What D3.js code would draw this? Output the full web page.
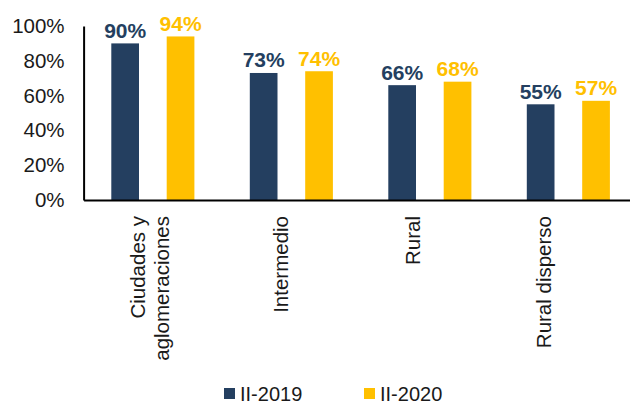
<!DOCTYPE html>
<html>
<head>
<meta charset="utf-8">
<script src="https://cdn.jsdelivr.net/npm/d3@7"></script>
<style>
  body { margin: 0; background: #fff; }
  text { font-family: Arial, "Liberation Sans", sans-serif; }
</style>
</head>
<body>
<div id="chart"></div>
<script>
const categories = ["Ciudades y aglomeraciones", "Intermedio", "Rural", "Rural disperso"];
const categoryLines = [["Ciudades y", "aglomeraciones"], ["Intermedio"], ["Rural"], ["Rural disperso"]];
const seriesNames = ["II-2019", "II-2020"];
const values2019 = [0.90, 0.73, 0.66, 0.55];
const values2020 = [0.94, 0.74, 0.68, 0.57];
const yTicks = [0, 0.2, 0.4, 0.6, 0.8, 1.0];

const width = 630;
const height = 403;
const colors = ["#243f60", "#ffc000"];

const svg = d3.select("#chart")
  .append("svg")
  .attr("width", width)
  .attr("height", height);

const x = d3.scaleBand()
  .domain(categories)
  .range([83.6, 637.6]);

const xInner = d3.scaleBand()
  .domain(seriesNames)
  .range([0, x.bandwidth()])
  .paddingInner(0.5)
  .paddingOuter(0.5);

// Excel spreads the rotated labels a bit narrower than the bars
const xLabel = d3.scaleBand()
  .domain(categories)
  .range([84, 610]);

const y = d3.scaleLinear()
  .domain([0, 1])
  .range([200, 26]);

const rows = categories.map((c, i) => ({
  category: c,
  lines: categoryLines[i],
  values: [values2019[i], values2020[i]]
}));

// y axis
const yAxis = svg.append("g")
  .attr("transform", `translate(${x.range()[0]},0)`)
  .call(d3.axisLeft(y).tickValues(yTicks).tickFormat(d3.format(".0%")).tickSize(0).tickSizeOuter(0).tickPadding(19));
yAxis.select(".domain").attr("stroke", "#000").attr("stroke-width", 2);
yAxis.selectAll("text")
  .attr("font-size", 20.5)
  .attr("fill", "#1a1a1a");

// bars
const group = svg.append("g")
  .selectAll("g")
  .data(rows)
  .join("g")
  .attr("transform", d => `translate(${x(d.category)},0)`);

group.selectAll("rect")
  .data(d => d.values.map((v, i) => ({ key: seriesNames[i], value: v, i })))
  .join("rect")
  .attr("x", d => xInner(d.key))
  .attr("width", xInner.bandwidth())
  .attr("y", d => y(d.value))
  .attr("height", d => y(0) - y(d.value))
  .attr("fill", d => colors[d.i]);

group.selectAll("text.value")
  .data(d => d.values.map((v, i) => ({ key: seriesNames[i], value: v, i })))
  .join("text")
  .attr("class", "value")
  .attr("x", d => xInner(d.key) + xInner.bandwidth() / 2)
  .attr("y", d => y(d.value) - 5.5)
  .attr("text-anchor", "middle")
  .attr("font-size", 21)
  .attr("font-weight", "bold")
  .attr("fill", d => colors[d.i])
  .text(d => d3.format(".0%")(d.value));

// x axis line
const xAxis = svg.append("g")
  .attr("transform", `translate(0,${y(0)})`)
  .call(d3.axisBottom(x).tickSize(0).tickSizeOuter(0).tickFormat(""));
xAxis.select(".domain").attr("stroke", "#000").attr("stroke-width", 2);

// rotated category labels
const labels = svg.append("g")
  .selectAll("text")
  .data(rows)
  .join("text")
  .attr("transform", d => `translate(${xLabel(d.category) + xLabel.bandwidth() / 2},216) rotate(-90)`)
  .attr("text-anchor", "end")
  .attr("font-size", 20.5)
  .attr("fill", "#1a1a1a");

labels.selectAll("tspan")
  .data(d => d.lines.map((t, i) => ({ t, i, n: d.lines.length })))
  .join("tspan")
  .attr("x", 0)
  .attr("y", d => (d.i - (d.n - 1) / 2) * 23.4)
  .attr("dy", "0.35em")
  .text(d => d.t);

// legend
const legend = svg.append("g")
  .selectAll("g")
  .data(seriesNames)
  .join("g")
  .attr("transform", (d, i) => `translate(${224 + i * 140},388)`);

legend.append("rect")
  .attr("width", 11)
  .attr("height", 11)
  .attr("fill", (d, i) => colors[i]);

legend.append("text")
  .attr("x", 16)
  .attr("y", 5.5)
  .attr("dy", "0.35em")
  .attr("font-size", 20)
  .attr("fill", "#1a1a1a")
  .text(d => d);
</script>
</body>
</html>
